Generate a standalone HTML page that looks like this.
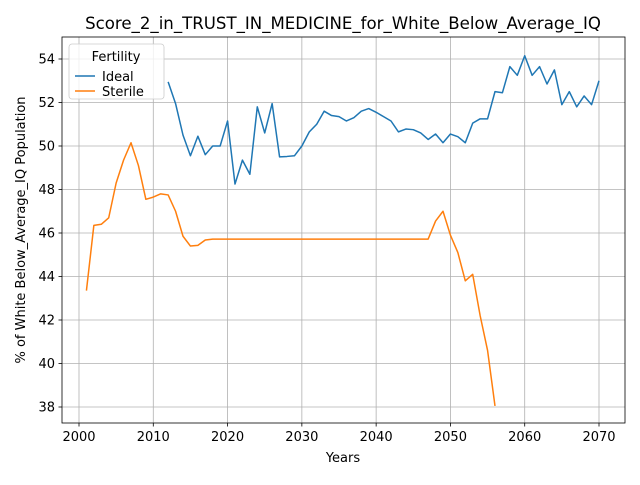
<!DOCTYPE html>
<html><head><meta charset="utf-8"><style>
body{margin:0;background:#fff;font-family:"Liberation Sans","DejaVu Sans",sans-serif}
svg text{font-family:"DejaVu Sans","Liberation Sans",sans-serif}
</style></head><body>
<svg id="c" width="640" height="480"></svg>
<script>
const idealYears=[];for(let y=2012;y<=2070;y++)idealYears.push(y);
const idealValues=[52.95,51.95,50.5,49.55,50.45,49.6,50.0,50.0,51.15,48.25,49.35,48.7,51.8,50.6,51.95,49.5,49.52,49.55,50.0,50.65,51.0,51.6,51.4,51.35,51.15,51.3,51.6,51.72,51.55,51.35,51.15,50.65,50.78,50.75,50.6,50.3,50.55,50.15,50.55,50.43,50.15,51.05,51.25,51.25,52.5,52.45,53.65,53.25,54.15,53.25,53.65,52.85,53.5,51.9,52.5,51.8,52.3,51.9,53.0];
const sterileYears=[];for(let y=2001;y<=2056;y++)sterileYears.push(y);
const sterileValues=[43.35,46.35,46.4,46.7,48.3,49.35,50.15,49.1,47.55,47.65,47.8,47.75,47.0,45.85,45.4,45.43,45.68,45.72,45.72,45.72,45.72,45.72,45.72,45.72,45.72,45.72,45.72,45.72,45.72,45.72,45.72,45.72,45.72,45.72,45.72,45.72,45.72,45.72,45.72,45.72,45.72,45.72,45.72,45.72,45.72,45.72,45.72,46.55,47.0,45.9,45.1,43.8,44.1,42.2,40.6,38.05];
const xTicks=[2000,2010,2020,2030,2040,2050,2060,2070];
const yTicks=[38,40,42,44,46,48,50,52,54];
const L=62,R=625,T=37,B=423;
const x=v=>79+(v-2000)*520/70;
const y=v=>407-(v-38)*348/16;
const s=document.getElementById('c');const NS='http://www.w3.org/2000/svg';
function el(t,a,p){const e=document.createElementNS(NS,t);for(const k in a)e.setAttribute(k,a[k]);(p||s).appendChild(e);return e;}
xTicks.forEach(t=>{
const g=el('line',{x1:x(t),x2:x(t),y1:T,y2:B,stroke:'#b0b0b0','stroke-width':0.8});


el('line',{x1:x(t),x2:x(t),y1:B,y2:B+3.5,stroke:'#000','stroke-width':0.8});
const tx=el('text',{x:x(t),y:B+18,'text-anchor':'middle','font-size':13});tx.textContent=t;


});
yTicks.forEach(t=>{
const g=el('line',{x1:L,x2:R,y1:y(t),y2:y(t),stroke:'#b0b0b0','stroke-width':0.8});


el('line',{x1:L-3.5,x2:L,y1:y(t),y2:y(t),stroke:'#000','stroke-width':0.8});
const tx=el('text',{x:L-7,y:y(t)+4.5,'text-anchor':'end','font-size':13});tx.textContent=t;


});
function line(xs,vs,c,n){const p=el('polyline',{points:xs.map((v,i)=>x(v)+','+y(vs[i])).join(' '),fill:'none',stroke:c,'stroke-width':1.5,'stroke-linejoin':'round'});

}
line(idealYears,idealValues,'#1f77b4','ideal-line');
line(sterileYears,sterileValues,'#ff7f0e','sterile-line');
const f=el('rect',{x:L,y:T,width:R-L,height:B-T,fill:'none',stroke:'#000','stroke-width':0.8});


</script>
<svg width="640" height="480" style="position:absolute;left:0;top:0">
<text x="343" y="29" text-anchor="middle" font-size="16.6">Score_2_in_TRUST_IN_MEDICINE_for_White_Below_Average_IQ</text>
<text x="343" y="462" text-anchor="middle" font-size="13">Years</text>
<text transform="translate(25,230) rotate(-90)" text-anchor="middle" font-size="13">% of White Below_Average_IQ Population</text>
<g>
<rect x="69" y="44" width="95" height="55" rx="3" fill="#fff" fill-opacity="0.8" stroke="#ccc" stroke-width="0.8"/>
<text x="116" y="61" text-anchor="middle" font-size="13">Fertility</text>
<line x1="75" x2="95" y1="76" y2="76" stroke="#1f77b4" stroke-width="1.5"/>
<text x="102" y="81" font-size="13">Ideal</text>
<line x1="75" x2="95" y1="91" y2="91" stroke="#ff7f0e" stroke-width="1.5"/>
<text x="102" y="96" font-size="13">Sterile</text>
</g>
</svg>
</body></html>
